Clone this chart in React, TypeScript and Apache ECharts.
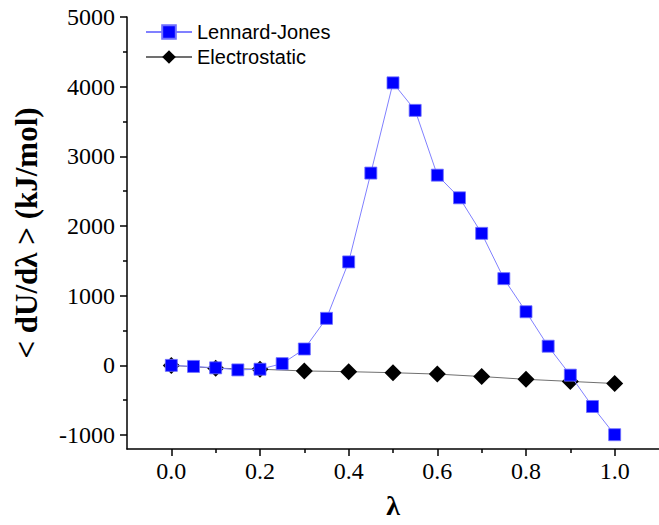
import React, { useEffect, useRef } from "react";
import * as echarts from "echarts";

const ljLambda = [0, 0.05, 0.1, 0.15, 0.2, 0.25, 0.3, 0.35, 0.4, 0.45, 0.5, 0.55, 0.6, 0.65, 0.7, 0.75, 0.8, 0.85, 0.9, 0.95, 1.0];
const ljValues = [0, -15, -35, -65, -55, 25, 235, 675, 1485, 2760, 4055, 3660, 2730, 2405, 1895, 1245, 770, 275, -140, -590, -995];
const esLambda = [0, 0.1, 0.2, 0.3, 0.4, 0.5, 0.6, 0.7, 0.8, 0.9, 1.0];
const esValues = [0, -40, -55, -80, -90, -105, -125, -160, -200, -230, -260];
const xMajorTicks = [0, 0.2, 0.4, 0.6, 0.8, 1.0];
const xMinorTicks = [0.1, 0.3, 0.5, 0.7, 0.9];
const yMajorTicks = [-1000, 0, 1000, 2000, 3000, 4000, 5000];
const yMinorTicks = [-500, 500, 1500, 2500, 3500, 4500];

const serif = "Liberation Serif";
const sans = "Liberation Sans";

export default function App() {
  const ref = useRef<HTMLDivElement>(null);
  useEffect(() => {
    if (!ref.current) return;
    const chart = echarts.init(ref.current, null, { renderer: "svg" });
    const xBase = { type: "value", min: -0.1, max: 1.1, gridIndex: 0, splitLine: { show: false } };
    const yBase = { type: "value", min: -1200, max: 5000, gridIndex: 0, splitLine: { show: false } };
    const labelStyle = { fontFamily: serif, fontSize: 24, color: "#000", fontWeight: "normal" };
    chart.setOption({
      animation: false,
      backgroundColor: "#ffffff",
      textStyle: { fontFamily: serif, color: "#000" },
      grid: { left: 127, top: 17, right: 0, bottom: 76, containLabel: false },
      legend: {
        orient: "vertical",
        left: 140,
        top: 17,
        itemWidth: 46,
        itemHeight: 17,
        itemGap: 5,
        textStyle: { fontFamily: sans, fontSize: 20, color: "#000" },
        data: ["Lennard-Jones", "Electrostatic"],
      },
      xAxis: [
        {
          ...xBase,
          name: "λ",
          nameLocation: "middle",
          nameGap: 42,
          nameTextStyle: { fontFamily: serif, fontSize: 28, fontWeight: "bold", color: "#000" },
          axisLine: { show: true, onZero: false, lineStyle: { color: "#000", width: 1.5 } },
          axisTick: { show: true, customValues: xMajorTicks, length: 7, lineStyle: { color: "#000", width: 1.5 } },
          axisLabel: { customValues: xMajorTicks, formatter: (v: number) => v.toFixed(1), margin: 10, ...labelStyle, textStyle: labelStyle },
        },
        {
          ...xBase,
          position: "bottom",
          axisLine: { show: false, onZero: false },
          axisTick: { show: true, customValues: xMinorTicks, length: 4, lineStyle: { color: "#000", width: 1.5 } },
          axisLabel: { show: false },
        },
      ],
      yAxis: [
        {
          ...yBase,
          name: "< dU/dλ > (kJ/mol)",
          nameLocation: "middle",
          nameGap: 85,
          nameTextStyle: { fontFamily: serif, fontSize: 31, fontWeight: "bold", color: "#000" },
          axisLine: { show: true, onZero: false, lineStyle: { color: "#000", width: 1.5 } },
          axisTick: { show: true, customValues: yMajorTicks, length: 7, lineStyle: { color: "#000", width: 1.5 } },
          axisLabel: { customValues: yMajorTicks, formatter: (v: number) => String(v), margin: 12, ...labelStyle, textStyle: labelStyle },
        },
        {
          ...yBase,
          position: "left",
          axisLine: { show: false, onZero: false },
          axisTick: { show: true, customValues: yMinorTicks, length: 4, lineStyle: { color: "#000", width: 1.5 } },
          axisLabel: { show: false },
        },
      ],
      series: [
        {
          name: "Electrostatic",
          type: "line",
          xAxisIndex: 0,
          yAxisIndex: 0,
          data: esLambda.map((x, i) => [x, esValues[i]]),
          symbol: "diamond",
          symbolSize: 17,
          itemStyle: { color: "#000000" },
          lineStyle: { color: "#707070", width: 1 },
          z: 2,
        },
        {
          name: "Lennard-Jones",
          type: "line",
          xAxisIndex: 0,
          yAxisIndex: 0,
          data: ljLambda.map((x, i) => [x, ljValues[i]]),
          symbol: "rect",
          symbolSize: 12,
          itemStyle: { color: "#0000ff", borderColor: "#6f6fff", borderWidth: 0.8 },
          lineStyle: { color: "#8080ff", width: 1 },
          z: 3,
        },
      ],
    });
    return () => chart.dispose();
  }, []);
  return <div ref={ref} style={{ width: 659, height: 525, position: "absolute", left: 0, top: 0 }} />;
}
